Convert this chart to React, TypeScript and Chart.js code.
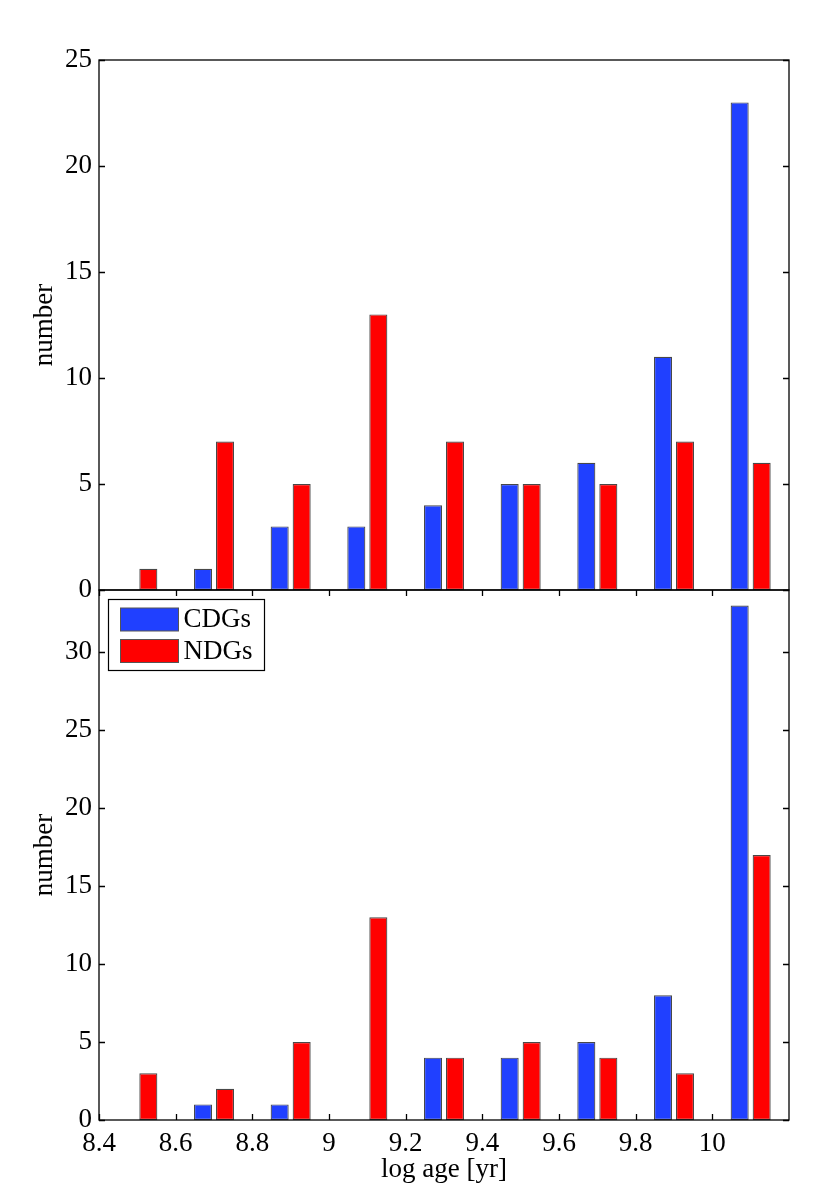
import { useEffect, useRef } from 'react';
import { Chart, registerables } from 'chart.js';

Chart.register(...registerables);

// log age bin centres
const ageBins = [8.5, 8.7, 8.9, 9.1, 9.3, 9.5, 9.7, 9.9, 10.1];

// upper panel
const cdgTop = [0, 1, 3, 3, 4, 5, 6, 11, 23];
const ndgTop = [1, 7, 5, 13, 7, 5, 5, 7, 6];

// lower panel
const cdgBottom = [0, 1, 1, 0, 4, 4, 5, 8, 33];
const ndgBottom = [3, 2, 5, 13, 4, 5, 4, 3, 17];

const xTicks = [8.4, 8.6, 8.8, 9, 9.2, 9.4, 9.6, 9.8, 10];
const topYTicks = [0, 5, 10, 15, 20, 25];
const bottomYTicks = [0, 5, 10, 15, 20, 25, 30];

const seriesLabels = ['CDGs', 'NDGs'];
const seriesColors = ['#2040ff', '#ff0000'];

const FONT = "'Liberation Serif', 'Times New Roman', serif";
const FSIZE = 27;

// matlab-like box with inward ticks on all sides
const framePlugin = {
  id: 'frame',
  afterDraw(chart: any, _args: any, opts: any) {
    const { ctx, chartArea } = chart;
    const { left, right, top, bottom } = chartArea;
    const tl = 6;
    ctx.save();
    ctx.strokeStyle = '#000';
    ctx.lineWidth = 1.3;
    ctx.strokeRect(left, top, right - left, bottom - top);
    ctx.beginPath();
    const ys = chart.scales.y;
    ys.ticks.forEach((t: any) => {
      const y = Math.round(ys.getPixelForValue(t.value)) + 0.5;
      ctx.moveTo(left, y);
      ctx.lineTo(left + tl, y);
      ctx.moveTo(right, y);
      ctx.lineTo(right - tl, y);
    });
    if (opts && opts.xTicks) {
      const xs = chart.scales.x;
      xs.ticks.forEach((t: any) => {
        const x = Math.round(xs.getPixelForValue(t.value)) + 0.5;
        ctx.moveTo(x, bottom);
        ctx.lineTo(x, bottom - tl);
        ctx.moveTo(x, top);
        ctx.lineTo(x, top + tl);
      });
    }
    ctx.stroke();
    ctx.restore();
  },
};

// boxed legend in the upper-left corner of the plot
const boxLegendPlugin = {
  id: 'boxLegend',
  afterDraw(chart: any, _args: any, opts: any) {
    if (!opts || !opts.show) return;
    const { ctx, chartArea } = chart;
    const bx = chartArea.left + 9.5;
    const by = chartArea.top + 9.5;
    const bw = 156;
    const bh = 71;
    ctx.save();
    ctx.fillStyle = '#fff';
    ctx.fillRect(bx, by, bw, bh);
    ctx.strokeStyle = '#000';
    ctx.lineWidth = 1.2;
    ctx.strokeRect(bx, by, bw, bh);
    ctx.font = `${FSIZE}px ${FONT}`;
    ctx.textBaseline = 'middle';
    ctx.textAlign = 'left';
    chart.data.datasets.forEach((ds: any, i: number) => {
      const sy = by + 8.5 + i * 31.5;
      ctx.fillStyle = ds.backgroundColor;
      ctx.fillRect(bx + 12, sy, 58, 23);
      ctx.strokeStyle = '#555';
      ctx.lineWidth = 1;
      ctx.strokeRect(bx + 12, sy, 58, 23);
      ctx.fillStyle = '#000';
      ctx.fillText(ds.label, bx + 75, sy + 12);
    });
    ctx.restore();
  },
};

function makeConfig(cdg: number[], ndg: number[], yMax: number, yTicks: number[], bottomPanel: boolean): any {
  const series = [cdg, ndg];
  return {
    type: 'bar',
    data: {
      datasets: series.map((vals, i) => ({
        label: seriesLabels[i],
        data: ageBins.map((x, j) => ({ x, y: vals[j] })),
        backgroundColor: seriesColors[i],
        borderColor: '#484848',
        borderWidth: 1.2,
        borderSkipped: false,
        categoryPercentage: 0.574,
        barPercentage: 0.82,
      })),
    },
    options: {
      responsive: true,
      maintainAspectRatio: false,
      animation: false,
      layout: {
        padding: bottomPanel
          ? { top: 30, right: 41, bottom: 0, left: 0 }
          : { top: 60, right: 41, bottom: 30, left: 0 },
      },
      plugins: {
        legend: { display: false },
        tooltip: { enabled: false },
        frame: { xTicks: bottomPanel },
        boxLegend: { show: bottomPanel },
      },
      scales: {
        x: {
          type: 'linear',
          min: 8.4,
          max: 10.2,
          offset: false,
          grid: { display: false, offset: false },
          border: { display: false },
          afterBuildTicks: (scale: any) => {
            scale.ticks = xTicks.map((v) => ({ value: v }));
          },
          afterFit: (scale: any) => {
            scale.height = bottomPanel ? 72 : 0;
          },
          ticks: {
            display: bottomPanel,
            padding: 0,
            color: '#000',
            font: { family: FONT, size: FSIZE },
            maxRotation: 0,
            callback: (v: any) => String(v),
          },
          title: {
            display: bottomPanel,
            text: 'log age [yr]',
            color: '#000',
            font: { family: FONT, size: FSIZE },
            padding: { top: 0, bottom: 6 },
          },
        },
        y: {
          min: 0,
          max: yMax,
          grid: { display: false, drawTicks: false },
          border: { display: false },
          afterBuildTicks: (scale: any) => {
            scale.ticks = yTicks.map((v) => ({ value: v }));
          },
          afterFit: (scale: any) => {
            scale.width = 99;
          },
          ticks: {
            padding: 7,
            color: '#000',
            font: { family: FONT, size: FSIZE },
          },
          title: {
            display: true,
            text: 'number',
            color: '#000',
            font: { family: FONT, size: FSIZE },
            padding: { top: 29, bottom: 0 },
          },
        },
      },
    },
    plugins: [framePlugin, boxLegendPlugin],
  };
}

export default function App() {
  const topRef = useRef<HTMLCanvasElement>(null);
  const bottomRef = useRef<HTMLCanvasElement>(null);
  const topChart = useRef<Chart | null>(null);
  const bottomChart = useRef<Chart | null>(null);

  useEffect(() => {
    if (topRef.current) {
      if (topChart.current) topChart.current.destroy();
      topChart.current = new Chart(topRef.current, makeConfig(cdgTop, ndgTop, 25, topYTicks, false));
    }
    if (bottomRef.current) {
      if (bottomChart.current) bottomChart.current.destroy();
      bottomChart.current = new Chart(bottomRef.current, makeConfig(cdgBottom, ndgBottom, 34, bottomYTicks, true));
    }
    return () => {
      if (topChart.current) {
        topChart.current.destroy();
        topChart.current = null;
      }
      if (bottomChart.current) {
        bottomChart.current.destroy();
        bottomChart.current = null;
      }
    };
  }, []);

  return (
    <div style={{ position: 'absolute', left: 0, top: 0, width: 830, height: 1192, background: '#fff' }}>
      <div style={{ position: 'absolute', left: 0, top: 0, width: 830, height: 620 }}>
        <canvas ref={topRef}></canvas>
      </div>
      <div style={{ position: 'absolute', left: 0, top: 560, width: 830, height: 632 }}>
        <canvas ref={bottomRef}></canvas>
      </div>
    </div>
  );
}
